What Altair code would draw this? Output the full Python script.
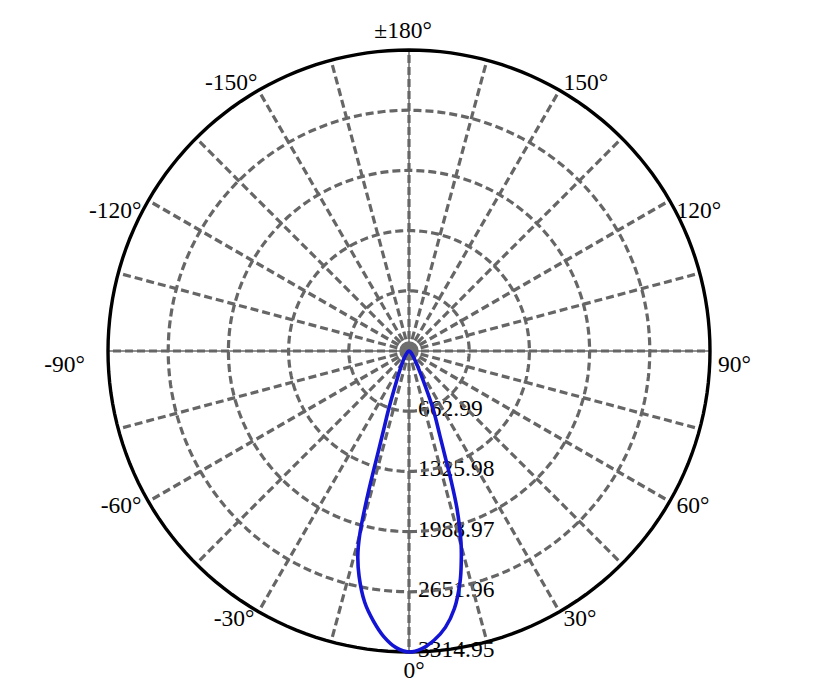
import altair as alt
import pandas as pd

# ---------------- data ----------------
R_MAX = 3314.95
ring_values = [662.99, 1325.98, 1988.97, 2651.96, 3314.95]
ring_labels = ["662.99", "1325.98", "1988.97", "2651.96", "3314.95"]
spoke_angles = list(range(0, 360, 15))
axis_angles = [0, 90, 180, 270]
label_angles = [0, 30, 60, 90, 120, 150, 180, -150, -120, -90, -60, -30]
label_texts = ["0°", "30°", "60°", "90°", "120°", "150°", "±180°",
               "-150°", "-120°", "-90°", "-60°", "-30°"]

curve_angles = [-90, -80, -70, -60, -50, -40, -35, -30, -25, -22.5, -20, -19,
                -18, -17, -16, -15, -14, -12.5, -10, -7.5, -5, -2.5, 0,
                2.5, 5, 7.5, 10, 12.5, 14, 15, 16, 17, 18, 19, 20, 22.5, 25,
                30, 35, 40, 50, 60, 70, 80, 90]
curve_values = [0, 2, 6, 12, 25, 55, 85, 140, 250, 360, 580, 720,
                880, 1150, 1650, 2100, 2330, 2540, 2810, 3000, 3160, 3270, 3314.95,
                3280, 3195, 3070, 2880, 2600, 2380, 2220, 2020, 1800, 1500, 1200, 1000, 700, 420,
                180, 100, 60, 28, 14, 6, 2, 0]

# ---------------- styling ----------------
PX = 602.0                     # plot size in pixels (diameter of outer circle)
U = 2 * R_MAX / PX             # data units per pixel
GRID = "#666666"
FONT = "Liberation Serif"
FS = 23.5
GW = 3.2
DASH = [8, 4]

xs = alt.Scale(domain=[-R_MAX, R_MAX], nice=False, zero=False)
ys = alt.Scale(domain=[-R_MAX, R_MAX], nice=False, zero=False)

rings_df = pd.DataFrame({"r": ring_values, "label": ring_labels})
spokes_df = pd.DataFrame({"a": spoke_angles})
axes_df = pd.DataFrame({"a": axis_angles})
labels_df = pd.DataFrame({"a": label_angles, "text": label_texts})
curve_df = pd.DataFrame({"a": curve_angles, "v": curve_values})
# sample points used to trace each grid circle
circle_df = pd.DataFrame(
    [{"r": r, "t": t} for r in ring_values for t in range(0, 362, 2)]
)

# ring value labels (drawn first, under the grid)
ring_text = alt.Chart(rings_df).mark_text(
    align="left", baseline="middle", dx=9, dy=-2, font=FONT, fontSize=FS, color="black"
).transform_calculate(
    x0="0", y="-datum.r"
).encode(
    x=alt.X("x0:Q", scale=xs, axis=None),
    y=alt.Y("y:Q", scale=ys, axis=None),
    text="label:N",
)

# thin solid main axes
axes_lines = alt.Chart(axes_df).mark_rule(color="#222222", strokeWidth=1).transform_calculate(
    x0="0", y0="0",
    x2=f"{R_MAX}*sin(datum.a*PI/180)",
    y2=f"-{R_MAX}*cos(datum.a*PI/180)",
).encode(
    x=alt.X("x0:Q", scale=xs, axis=None),
    y=alt.Y("y0:Q", scale=ys, axis=None),
    x2="x2:Q", y2="y2:Q",
)

# dashed spokes
spokes = alt.Chart(spokes_df).mark_rule(color=GRID, strokeWidth=GW, strokeDash=DASH).transform_calculate(
    x0="0", y0="0",
    x2=f"{R_MAX}*sin(datum.a*PI/180)",
    y2=f"-{R_MAX}*cos(datum.a*PI/180)",
).encode(
    x=alt.X("x0:Q", scale=xs, axis=None),
    y=alt.Y("y0:Q", scale=ys, axis=None),
    x2="x2:Q", y2="y2:Q",
)

# circles
circle_base = alt.Chart(circle_df).transform_calculate(
    cx="datum.r*sin(datum.t*PI/180)",
    cy="-datum.r*cos(datum.t*PI/180)",
)
enc = dict(
    x=alt.X("cx:Q", scale=xs, axis=None),
    y=alt.Y("cy:Q", scale=ys, axis=None),
    order="t:Q",
    detail="r:N",
)
inner_rings = circle_base.transform_filter(f"datum.r < {R_MAX} - 1").mark_line(
    color=GRID, strokeWidth=GW, strokeDash=DASH
).encode(**enc)
outer_ring = circle_base.transform_filter(f"datum.r >= {R_MAX} - 1").mark_line(
    color="black", strokeWidth=3.4
).encode(**enc)

# centre dot
centre = alt.Chart(spokes_df).transform_filter("datum.a == 0").transform_calculate(
    x0="0", y0="0"
).mark_circle(color="#6e6e6e", opacity=1, size=380).encode(
    x=alt.X("x0:Q", scale=xs, axis=None),
    y=alt.Y("y0:Q", scale=ys, axis=None),
)

# intensity curve
curve = alt.Chart(curve_df).mark_line(
    color="#1414d4", strokeWidth=3.6, interpolate="catmull-rom"
).transform_calculate(
    px="datum.v*sin(datum.a*PI/180)",
    py="-datum.v*cos(datum.a*PI/180)",
).encode(
    x=alt.X("px:Q", scale=xs, axis=None),
    y=alt.Y("py:Q", scale=ys, axis=None),
    order="a:Q",
)

# angle labels
LR = R_MAX * 309 / 301
lab_base = alt.Chart(labels_df).transform_calculate(
    lx=f"{LR}*sin(datum.a*PI/180) - (datum.a == -90 ? 15*{U} : 0) + (datum.a == -150 ? 3*{U} : 0)",
    ly=f"-{LR}*cos(datum.a*PI/180) - ((abs(datum.a) == 90 || abs(datum.a) == 120) ? 14*{U} : 0)",
)
lab_enc = dict(
    x=alt.X("lx:Q", scale=xs, axis=None),
    y=alt.Y("ly:Q", scale=ys, axis=None),
    text="text:N",
)
tstyle = dict(font=FONT, fontSize=FS, color="black")
lab_right = lab_base.transform_filter("datum.a > 0 && datum.a < 180").mark_text(
    align="left", baseline="middle", **tstyle).encode(**lab_enc)
lab_left = lab_base.transform_filter("datum.a < 0 && datum.a > -180").mark_text(
    align="right", baseline="middle", **tstyle).encode(**lab_enc)
lab_bottom = lab_base.transform_filter("datum.a == 0").mark_text(
    align="center", baseline="top", dx=5, dy=-1, **tstyle).encode(**lab_enc)
lab_top = lab_base.transform_filter("datum.a == 180").mark_text(
    align="center", baseline="bottom", dx=-6, dy=1, **tstyle).encode(**lab_enc)

chart = alt.layer(
    ring_text, axes_lines, spokes, inner_rings, outer_ring, centre, curve,
    lab_right, lab_left, lab_bottom, lab_top,
).properties(
    width=PX, height=PX,
    autosize=alt.AutoSizeParams(type="none"),
    padding={"left": 100, "top": 42, "right": 90, "bottom": 30},
    background="white",
).configure_view(stroke=None)

chart.save("out.html", embed_options={"renderer": "svg", "actions": False})
